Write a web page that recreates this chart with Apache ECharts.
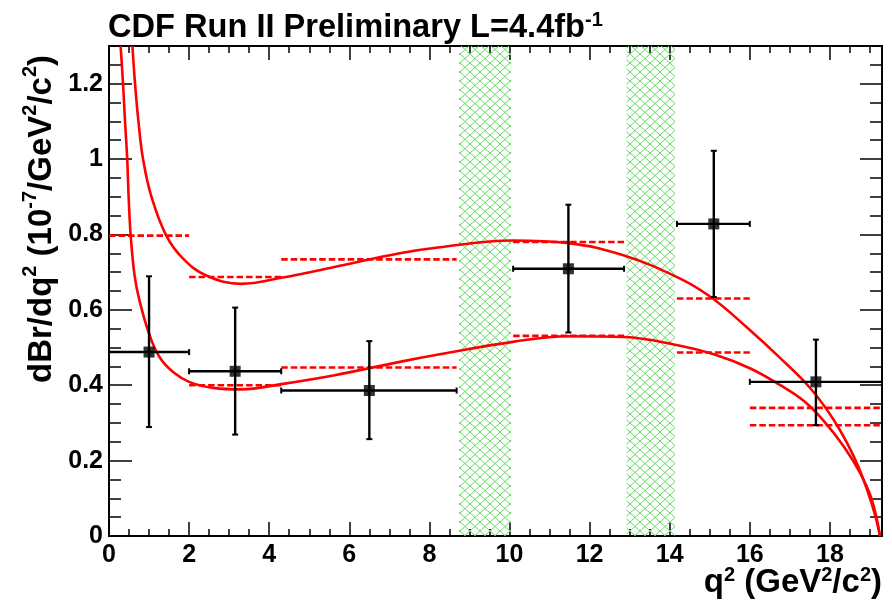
<!DOCTYPE html>
<html><head><meta charset="utf-8">
<script src="https://cdn.jsdelivr.net/npm/echarts@6/dist/echarts.min.js"></script>
<style>html,body{margin:0;padding:0;background:#fff}#c{width:892px;height:605px}</style>
</head><body><div id="c"></div>
<script>
// ---- data ----
const binLo = [0, 2.0, 4.3, 10.09, 14.18, 16.0];
const binHi = [2.0, 4.3, 8.68, 12.86, 16.0, 19.3];
const pointX = [1.0, 3.15, 6.5, 11.47, 15.1, 17.65];
const pointY = [0.488, 0.437, 0.386, 0.709, 0.828, 0.409];
const errLo = [0.289, 0.269, 0.257, 0.540, 0.634, 0.294];
const errHi = [0.689, 0.606, 0.517, 0.879, 1.022, 0.521];
const predUpper = [null, 0.687, 0.734, 0.780, 0.630, 0.340];
const predLower = [0.797, 0.400, 0.447, 0.531, 0.487, 0.294];
const vetoLo = [8.74, 12.92];
const vetoHi = [10.04, 14.13];
const curveA = [[0.585,1.30],[0.65,1.20],[0.735,1.10],[0.85,1.00],[1.06,0.90],[1.43,0.797],[1.85,0.736],[2.43,0.691],[3.3,0.669],[4.3,0.685],[5.6,0.713],[7.26,0.750],[8.26,0.766],[10.08,0.784],[11.47,0.777],[12.86,0.744],[14.26,0.683],[15.05,0.632],[15.93,0.553],[16.76,0.472],[17.51,0.392],[18.1,0.307],[18.6,0.210],[18.93,0.122],[19.14,0.051],[19.25,0]];
const curveB = [[0.29,1.30],[0.35,1.20],[0.40,1.10],[0.455,1.00],[0.49,0.90],[0.54,0.80],[0.64,0.69],[0.76,0.625],[1.0,0.537],[1.26,0.475],[1.6,0.435],[2.0,0.409],[2.6,0.393],[3.3,0.389],[4.3,0.403],[5.6,0.426],[7.26,0.462],[8.26,0.482],[10.08,0.515],[11.47,0.530],[12.86,0.528],[14.2,0.506],[15.1,0.482],[16.0,0.445],[16.76,0.400],[17.35,0.358],[17.85,0.305],[18.35,0.237],[18.76,0.166],[19.05,0.095],[19.25,0]];
const xTickLabels = ['0','2','4','6','8','10','12','14','16','18'];
const yTickLabels = ['0','0.2','0.4','0.6','0.8','1','1.2'];
const X_MAX = 19.3, Y_MAX = 1.3;

// ---- styling helpers ----
const FONT = 'Liberation Sans, Arial, Helvetica, sans-serif';
function hatchCanvas(){
  const c = document.createElement('canvas'); c.width = 10; c.height = 9;
  const g = c.getContext('2d');
  g.strokeStyle = '#66d866'; g.lineWidth = 1;
  g.beginPath();
  g.moveTo(-1,-0.9); g.lineTo(11,9.9);
  g.moveTo(11,-0.9); g.lineTo(-1,9.9);
  g.stroke();
  return c;
}
const hatch = {image: hatchCanvas(), repeat: 'repeat'};

function tickAxis(pos, interval, len, showLine, labels, max, isX){
  const a = {
    type: 'value', min: 0, max: max, interval: interval, position: pos,
    axisLine: {show: showLine, onZero: false, lineStyle: {color: '#000', width: 2}},
    axisTick: {show: true, inside: true, length: len, lineStyle: {color: '#000', width: 1.5}},
    axisLabel: {show: !!labels},
    splitLine: {show: false}
  };
  if (labels) {
    a.axisLabel = {
      show: true, color: '#000', fontFamily: FONT, fontWeight: 'bold', fontSize: 25,
      margin: isX ? 7 : 6, showMaxLabel: false,
      formatter: function(v){ const s = String(+v.toFixed(4)); return labels.indexOf(s) >= 0 ? s : ''; }
    };
  }
  return a;
}

const errData = pointX.map((x,i)=>[x, pointY[i], binLo[i], binHi[i], errLo[i], errHi[i]]);
const dashData = [];
binLo.forEach((lo,i)=>{
  if (predUpper[i] != null) dashData.push([lo, binHi[i], predUpper[i]]);
  if (predLower[i] != null) dashData.push([lo, binHi[i], predLower[i]]);
});
const vetoData = vetoLo.map((lo,i)=>[lo, vetoHi[i]]);

const option = {
  animation: false,
  backgroundColor: '#fff',
  grid: {left: 109, right: 10, top: 46, bottom: 69, containLabel: false},
  xAxis: [
    tickAxis('bottom', 2, 14, true, xTickLabels, X_MAX, true),
    tickAxis('bottom', 0.5, 7, false, null, X_MAX, true),
    tickAxis('top', 2, 14, true, null, X_MAX, true),
    tickAxis('top', 0.5, 7, false, null, X_MAX, true)
  ],
  yAxis: [
    tickAxis('left', 0.2, 23, true, yTickLabels, Y_MAX, false),
    tickAxis('left', 0.05, 12, false, null, Y_MAX, false),
    tickAxis('right', 0.2, 22, true, null, Y_MAX, false),
    tickAxis('right', 0.05, 12, false, null, Y_MAX, false)
  ],
  series: [
    {
      type: 'custom', name: 'veto', z: 1, data: vetoData,
      renderItem: function(params, api){
        const p0 = api.coord([api.value(0), 0]);
        const p1 = api.coord([api.value(1), Y_MAX]);
        return {type: 'rect', shape: {x: p0[0], y: p1[1], width: p1[0]-p0[0], height: p0[1]-p1[1]},
                style: {fill: hatch, stroke: null}};
      }
    },
    {
      type: 'custom', name: 'binpred', z: 3, data: dashData,
      renderItem: function(params, api){
        const a = api.coord([api.value(0), api.value(2)]);
        const b = api.coord([api.value(1), api.value(2)]);
        return {type: 'line', shape: {x1: a[0], y1: a[1], x2: b[0], y2: b[1]},
                style: {stroke: '#ff0000', lineWidth: 2.6, lineDash: [6.5, 3]}};
      }
    },
    {type: 'line', name: 'A', z: 4, data: curveA, showSymbol: false, smooth: 0.4,
     lineStyle: {color: '#ff0000', width: 2.6}, clip: true},
    {type: 'line', name: 'B', z: 4, data: curveB, showSymbol: false, smooth: 0.4,
     lineStyle: {color: '#ff0000', width: 2.6}, clip: true},
    {
      type: 'custom', name: 'err', z: 5, data: errData,
      renderItem: function(params, api){
        const y = api.value(1), x = api.value(0);
        const c = api.coord([x, y]);
        const l = api.coord([api.value(2), y]), r = api.coord([api.value(3), y]);
        const b = api.coord([x, api.value(4)]), t = api.coord([x, api.value(5)]);
        const st = {stroke: '#000', lineWidth: 2.4};
        const cs = {stroke: '#000', lineWidth: 2};
        const k = 3;
        return {type: 'group', children: [
          {type: 'line', shape: {x1: l[0], y1: c[1], x2: r[0], y2: c[1]}, style: st},
          {type: 'line', shape: {x1: c[0], y1: b[1], x2: c[0], y2: t[1]}, style: st},
          {type: 'line', shape: {x1: l[0], y1: c[1]-k, x2: l[0], y2: c[1]+k}, style: cs},
          {type: 'line', shape: {x1: r[0], y1: c[1]-k, x2: r[0], y2: c[1]+k}, style: cs},
          {type: 'line', shape: {x1: c[0]-k, y1: b[1], x2: c[0]+k, y2: b[1]}, style: cs},
          {type: 'line', shape: {x1: c[0]-k, y1: t[1], x2: c[0]+k, y2: t[1]}, style: cs}
        ]};
      }
    },
    {type: 'scatter', name: 'data', z: 6, data: pointX.map((x,i)=>[x, pointY[i]]),
     symbol: 'rect', symbolSize: 11, itemStyle: {color: '#000'}}
  ],
  graphic: [
    {type: 'text', x: 108, y: 10, z: 10,
     style: {text: 'CDF Run II Preliminary L=4.4fb{s|-1}', fontFamily: FONT, fontWeight: 'bold', fontSize: 32.6,
       lineHeight: 36, fill: '#000', align: 'left', verticalAlign: 'top',
       rich: {s: {fontFamily: FONT, fontWeight: 'bold', fontSize: 20, lineHeight: 16, verticalAlign: 'top', fill: '#000'}}}},
    {type: 'text', x: 882, y: 565, z: 10,
     style: {text: 'q{s|2} (GeV{s|2}/c{s|2})', fontFamily: FONT, fontWeight: 'bold', fontSize: 33,
       lineHeight: 36, fill: '#000', align: 'right', verticalAlign: 'top',
       rich: {s: {fontFamily: FONT, fontWeight: 'bold', fontSize: 20, lineHeight: 23, verticalAlign: 'top', fill: '#000'}}}},
    {type: 'text', x: 20, y: 383, rotation: Math.PI/2, z: 10,
     style: {text: 'dBr/dq{s|2} (10{s|-7}/GeV{s|2}/c{s|2})', fontFamily: FONT, fontWeight: 'bold', fontSize: 33,
       lineHeight: 44, fill: '#000', align: 'left', verticalAlign: 'top',
       rich: {s: {fontFamily: FONT, fontWeight: 'bold', fontSize: 20, lineHeight: 16, verticalAlign: 'top', fill: '#000'}}}}
  ]
};
const chart = echarts.init(document.getElementById('c'), null, {renderer: 'canvas'});
chart.setOption(option);
</script></body></html>
